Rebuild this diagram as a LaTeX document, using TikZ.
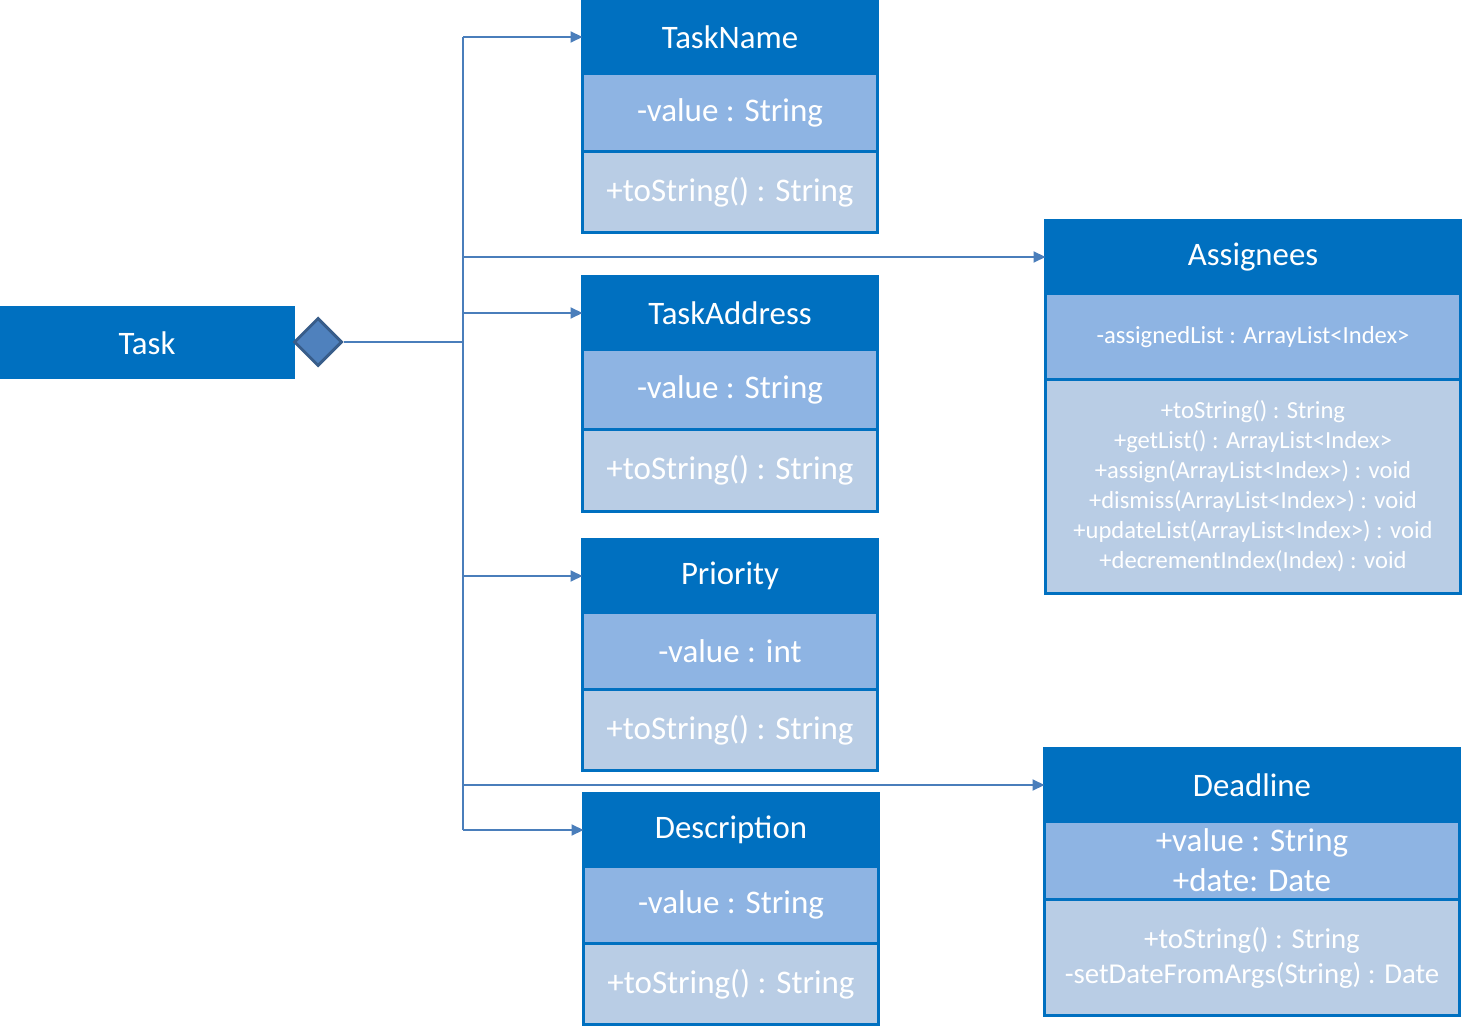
\documentclass[tikz,border=0pt]{standalone}
\usepackage{fontspec}
\setmainfont{Carlito}
\usetikzlibrary{arrows.meta,positioning,shapes.geometric}
\definecolor{hdrblue}{HTML}{0070C0}
\definecolor{attrblue}{HTML}{8EB4E3}
\definecolor{methblue}{HTML}{B9CDE5}
\definecolor{linkblue}{HTML}{4A7EBB}
\definecolor{aggfill}{HTML}{4F81BD}
\definecolor{aggedge}{HTML}{385D8A}

\begin{document}
\begin{tikzpicture}[
  x=0.5pt,
  y=-0.5pt,
  head/.style={fill=hdrblue,draw=hdrblue,line width=1.2pt,text=white,
    font=\fontsize{16.4}{20}\selectfont,minimum width=147.5pt,
    minimum height=36.5pt,inner sep=0pt,outer sep=0pt},
  attr/.style={fill=attrblue,draw=hdrblue,line width=1.5pt,text=white,
    font=\fontsize{16.5}{20}\selectfont,minimum width=147.5pt,
    minimum height=39pt,inner sep=0pt,outer sep=0pt,align=center},
  meth/.style={attr,fill=methblue},
  wide/.style={minimum width=207.5pt},
  small/.style={font=\fontsize{12.3}{15}\selectfont},
  link/.style={draw=linkblue,line width=1pt},
  arr/.style={link,-{Triangle[length=6pt,width=5.5pt]}},
  agg/.style={diamond,aspect=1,fill=aggfill,draw=aggedge,line width=1.5pt,
    minimum size=24pt,inner sep=0pt}
]
\useasboundingbox (0,0) rectangle (1462,1026);

% owner
\node[head,draw=none] (task) at (147,343) {Task};
\node[agg] (agg) at (318,342) {};
\coordinate (hub) at (463,342);

% value classes
\node[head] (nameh) at (730,37) {TaskName};
\node[attr,below=0pt of nameh] (namea) {-value : String};
\node[meth,below=0pt of namea,minimum height=40.5pt] (namem) {+toString() : String};

\node[head] (addrh) at (730,313) {TaskAddress};
\node[attr,below=0pt of addrh,minimum height=40pt] (addra) {-value : String};
\node[meth,below=0pt of addra,minimum height=41pt] (addrm) {+toString() : String};

\node[head] (prioh) at (730,576) {Priority};
\node[attr,below=0pt of prioh,minimum height=38.5pt] (prioa) {-value : int};
\node[meth,below=0pt of prioa,minimum height=40.5pt] (priom) {+toString() : String};

\node[head] (desch) at (731,830) {Description};
\node[attr,below=0pt of desch,minimum height=38.5pt] (desca) {-value : String};
\node[meth,below=0pt of desca,minimum height=40.5pt] (descm) {+toString() : String};

% wide classes
\node[head,wide,minimum height=37pt] (assh) at (1253,257) {Assignees};
\node[attr,wide,small,below=0pt of assh,minimum height=43pt] (assa)
  {-assignedList : ArrayList<Index>};
\node[meth,wide,small,below=0pt of assa,minimum height=106.5pt] (assm)
  {+toString() : String\\
   +getList() : ArrayList<Index>\\
   +assign(ArrayList<Index>) : void\\
   +dismiss(ArrayList<Index>) : void\\
   +updateList(ArrayList<Index>) : void\\
   +decrementIndex(Index) : void};

\node[head,wide] (deadh) at (1252,785) {Deadline};
\node[attr,wide,below=0pt of deadh] (deada)
  {+value : String\\+date: Date};
\node[meth,wide,below=0pt of deada,minimum height=58pt,
  font=\fontsize{14.4}{17.5}\selectfont] (deadm)
  {+toString() : String\\-setDateFromArgs(String) : Date};

% composition links
\draw[link] (agg.east) -- (hub);
\draw[link] (hub |- nameh.west) -- (hub |- desch.west);
\foreach \cls in {nameh,assh,addrh,prioh,deadh,desch} {
  \draw[arr] (hub |- \cls.west) -- (\cls.west);
}
\end{tikzpicture}
\end{document}
